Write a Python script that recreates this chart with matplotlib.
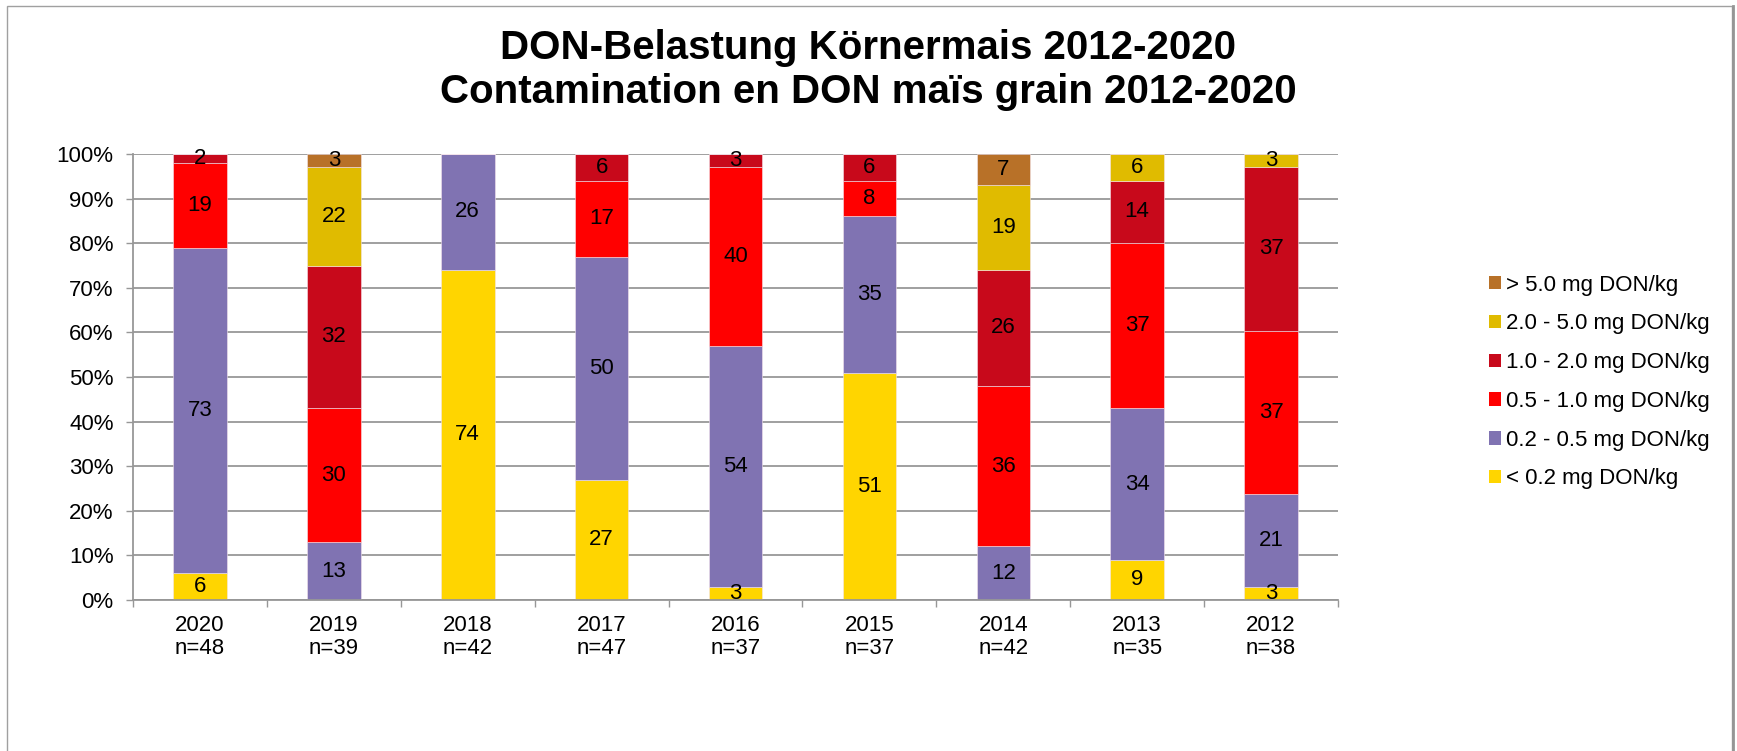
import numpy as np
import matplotlib
matplotlib.use("Agg")
import matplotlib.pyplot as plt
from matplotlib.patches import Rectangle, Patch
from matplotlib.lines import Line2D

plt.rcParams["font.family"] = ["Liberation Sans", "DejaVu Sans"]

years = ["2020", "2019", "2018", "2017", "2016", "2015", "2014", "2013", "2012"]
n_samples = [48, 39, 42, 47, 37, 37, 42, 35, 38]

# share of samples per class, in % (as printed on the bars)
below_02 = [6, 0, 74, 27, 3, 51, 0, 9, 3]
from_02_05 = [73, 13, 26, 50, 54, 35, 12, 34, 21]
from_05_10 = [19, 30, 0, 17, 40, 8, 36, 37, 37]
from_10_20 = [2, 32, 0, 6, 3, 6, 26, 14, 37]
from_20_50 = [0, 22, 0, 0, 0, 0, 19, 6, 3]
above_50 = [0, 3, 0, 0, 0, 0, 7, 0, 0]

series = [below_02, from_02_05, from_05_10, from_10_20, from_20_50, above_50]
names = ["< 0.2 mg DON/kg", "0.2 - 0.5 mg DON/kg", "0.5 - 1.0 mg DON/kg",
         "1.0 - 2.0 mg DON/kg", "2.0 - 5.0 mg DON/kg", "> 5.0 mg DON/kg"]
colors = ["#FFD500", "#8073B2", "#FF0000", "#C8091B", "#E0BB00", "#B87128"]

fig = plt.figure(figsize=(17.37, 7.51), dpi=100)
ax = fig.add_axes([133 / 1737, 1 - 600 / 751, (1338 - 133) / 1737, (600 - 154) / 751])

data = np.array(series, dtype=float)
shares = data / data.sum(axis=0) * 100  # 100% stacked
x = np.arange(len(years))
bottom = np.zeros(len(years))
for vals, share, color in zip(series, shares, colors):
    bars = ax.bar(x, share, 0.4, bottom=bottom, color=color,
                  edgecolor="#F4E4EC", linewidth=0.4, zorder=2)
    ax.bar_label(bars, labels=[str(v) if v else "" for v in vals],
                 label_type="center", fontsize=16, color="black")
    bottom += share

ax.set_xlim(-0.5, len(years) - 0.5)
ax.set_ylim(0, 100)
ax.set_yticks(np.arange(0, 101, 10))
ax.set_yticklabels([f"{t}%" for t in range(0, 101, 10)], fontsize=16)
ax.yaxis.grid(True, color="#979797", linewidth=1.3, zorder=0)
ax.set_axisbelow(True)

ax.set_xticks(np.arange(-0.5, len(years), 1.0))
ax.set_xticklabels([])
ax.set_xticks(x, minor=True)
ax.set_xticklabels([f"{y}\nn={n}" for y, n in zip(years, n_samples)],
                   minor=True, fontsize=16, linespacing=1.12)
ax.tick_params(axis="x", which="major", length=5, width=1, color="#979797", direction="out")
ax.tick_params(axis="x", which="minor", length=0, pad=11)
ax.tick_params(axis="y", length=5, width=1, color="#979797", pad=9)

for side in ["top", "right"]:
    ax.spines[side].set_visible(False)
for side in ["left", "bottom"]:
    ax.spines[side].set_color("#979797")
    ax.spines[side].set_linewidth(1.3)

fig.text(0.5, 1 - 59 / 751, "DON-Belastung Körnermais 2012-2020", ha="center", va="baseline",
         fontsize=29, fontweight="bold")
fig.text(0.5, 1 - 103 / 751, "Contamination en DON maïs grain 2012-2020", ha="center", va="baseline",
         fontsize=29, fontweight="bold")

handles = [Patch(facecolor=c, edgecolor="none") for c in colors][::-1]
fig.legend(handles, names[::-1], loc="center left", bbox_to_anchor=(1489 / 1737, 1 - 382 / 751),
           frameon=False, fontsize=16, borderpad=0, borderaxespad=0,
           handlelength=0.55, handleheight=0.55, handletextpad=0.22, labelspacing=0.8)

# chart frame
fig.patches.append(Rectangle((7 / 1737, -0.05), (1732 - 7) / 1737, 1.05 - 6 / 751,
                             transform=fig.transFigure, fill=False,
                             edgecolor="#A0A0A0", linewidth=1))
fig.lines.append(Line2D([1732.5 / 1737] * 2, [0, 1 - 6 / 751], transform=fig.transFigure,
                        color="#959595", linewidth=2))

fig.savefig("out.png", dpi=100)
